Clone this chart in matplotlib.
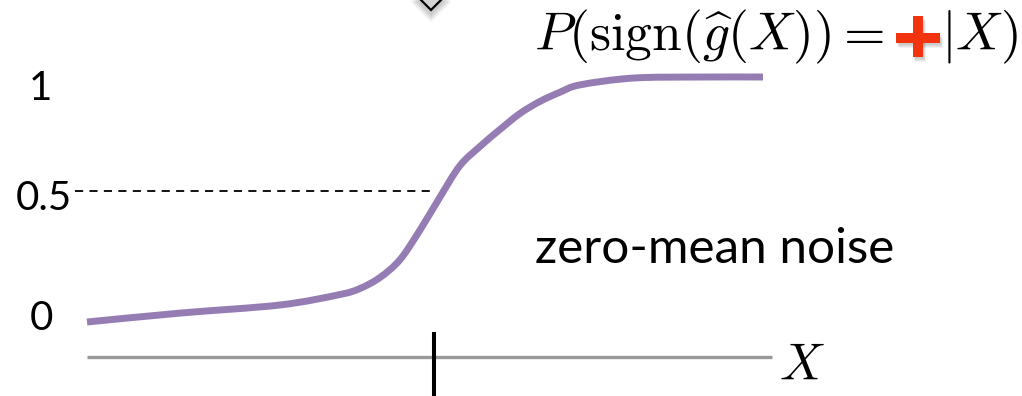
import numpy as np
import matplotlib
matplotlib.use("Agg")
import matplotlib.pyplot as plt
from matplotlib.path import Path
from matplotlib.patches import PathPatch, Polygon, Rectangle
from matplotlib.transforms import Affine2D

# ---- data ---------------------------------------------------------------
# Posterior probability of a positive sign as a function of X (threshold at X = 0)
x_vals = [-3.47, -2.54, -1.54, -0.94, -0.74, -0.54, -0.34, -0.14, 0.06,
          0.26, 0.46, 0.66, 0.86, 1.06, 1.26, 1.46, 1.99, 2.66, 3.29]
p_vals = [0.000, 0.034, 0.065, 0.105, 0.128, 0.170, 0.238, 0.351, 0.477,
          0.597, 0.670, 0.735, 0.796, 0.842, 0.877, 0.905, 0.931, 0.935, 0.935]
threshold = 0.0
half_level = 0.5
tick_labels = ["1", "0.5", "0"]
x_axis_range = [-3.47, 3.38]
axis_level = -0.134

W, H = 1022, 396
fig = plt.figure(figsize=(W / 100, H / 100), dpi=100)
ax = fig.add_axes([0, 0, 1, 1])
ax.set_xlim(-4.34, 5.88)
ax.set_ylim(-0.2824, 1.2290)
ax.axis("off")

LINE = "#957db4"


def smooth_path(xs, ys):
    """Catmull-Rom through the points, expressed as cubic Bezier segments."""
    pts = np.column_stack([xs, ys])
    n = len(pts)
    verts = [pts[0]]
    codes = [Path.MOVETO]
    for i in range(n - 1):
        p0 = pts[max(i - 1, 0)]
        p1 = pts[i]
        p2 = pts[i + 1]
        p3 = pts[min(i + 2, n - 1)]
        c1 = p1 + (p2 - p0) / 6.0
        c2 = p2 - (p3 - p1) / 6.0
        verts += [c1, c2, p2]
        codes += [Path.CURVE4] * 3
    return Path(verts, codes)


curve = PathPatch(smooth_path(x_vals, p_vals), fill=False, edgecolor=LINE,
                  lw=5.0, capstyle="butt", joinstyle="round", zorder=3)
ax.add_patch(curve)

# dashed guide at probability 0.5
ax.plot([-3.59, threshold - 0.02], [half_level, half_level], color="black",
        lw=1.3, dashes=(4.5, 3.5), zorder=2)

# horizontal X axis and threshold tick
ax.plot(x_axis_range, [axis_level, axis_level], color="#999999", lw=2.4,
        solid_capstyle="butt", zorder=1)
ax.plot([threshold, threshold], [-0.038, -0.30], color="black", lw=2.9,
        solid_capstyle="butt", zorder=2)

# ---- text ---------------------------------------------------------------
def fx(px):
    return px / W


def fy(py):
    return 1 - py / H


label_font = "Lato"
fig.text(fx(52), fy(100), tick_labels[0], ha="right", va="baseline",
         fontsize=29, family=label_font)
fig.text(fx(72), fy(210), tick_labels[1], ha="right", va="baseline",
         fontsize=29, family=label_font)
fig.text(fx(53), fy(330), tick_labels[2], ha="right", va="baseline",
         fontsize=29, family=label_font)

fig.text(fx(535), fy(263), "zero-mean noise", ha="left", va="baseline",
         fontsize=35.6, family=label_font)

plt.rcParams["mathtext.fontset"] = "cm"
fig.text(fx(884), fy(50), r"$P(\mathrm{sign}(\widehat{g}(X))=$", ha="right",
         va="baseline", fontsize=38.5)
fig.text(fx(941), fy(50), r"$|X)$", ha="left", va="baseline", fontsize=38.5)
fig.text(fx(779), fy(380), r"$X$", ha="left", va="baseline", fontsize=37)

# red plus sign with a soft drop shadow (display pixels, top-origin)
disp = Affine2D().scale(1, -1).translate(0, H)
RED = "#f2330f"
bars = [(896, 32.7, 44, 10.6), (912.7, 16, 10.6, 40.7)]
for k in range(4):
    off = 2 + k
    for (x0, y0, w, h) in bars:
        fig.patches.append(Rectangle((x0 + off * 0.5, y0 + off), w, h,
                                     transform=disp, facecolor="black",
                                     edgecolor="none", alpha=0.05))
for (x0, y0, w, h) in bars:
    fig.patches.append(Rectangle((x0, y0), w, h, transform=disp,
                                 facecolor=RED, edgecolor="none"))

# grey diamond marker partly cut by the top edge
cx, cy, r = 431, -1, 11
for k in range(6):
    s = r + 2 + k * 1.5
    fig.patches.append(Polygon([(cx, cy + 3 - s), (cx + s, cy + 3), (cx, cy + 3 + s),
                                (cx - s, cy + 3)], closed=True, transform=disp,
                               facecolor="black", edgecolor="none", alpha=0.035))
fig.patches.append(Polygon([(cx, cy - r), (cx + r, cy), (cx, cy + r), (cx - r, cy)],
                           closed=True, transform=disp, facecolor="#d4d4d4",
                           edgecolor="black", lw=1.6))

fig.savefig("out.png", dpi=100, facecolor="white")
